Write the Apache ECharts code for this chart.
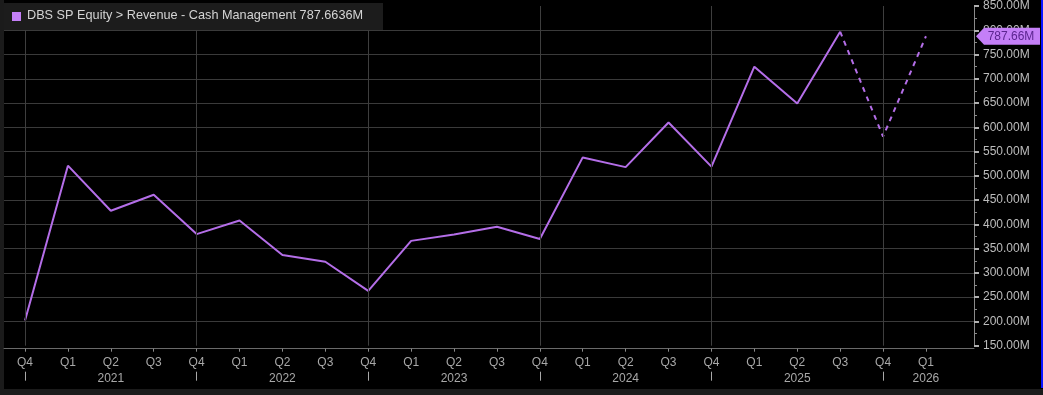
<!DOCTYPE html>
<html>
<head>
<meta charset="utf-8">
<script src="https://cdn.jsdelivr.net/npm/echarts@6/dist/echarts.min.js"></script>
<style>
html,body{margin:0;padding:0;background:#000;}
#chart{width:1043px;height:395px;}
</style>
</head>
<body>
<div id="chart"></div>
<script>
// Quarter labels (index 0 = Q4 2020 ... index 21 = Q1 2026)
const quarterLabels = ['Q4','Q1','Q2','Q3','Q4','Q1','Q2','Q3','Q4','Q1','Q2','Q3','Q4','Q1','Q2','Q3','Q4','Q1','Q2','Q3','Q4','Q1'];
// Year labels and the quarter index they are centred on
const yearLabels = ['2021','2022','2023','2024','2025','2026'];
const yearLabelIdx = [2, 6, 10, 14, 18, 21];
// Year separators (Q4 positions)
const yearSepIdx = [0, 4, 8, 12, 16, 20];
// Reported revenue (M), Q4 2020 .. Q3 2025
const actual = [202, 521, 428, 461, 380, 408, 337, 323, 263, 366, 379, 395, 370, 538, 518, 610, 519, 725, 649, 797];
// Estimates (M), Q4 2025 .. Q1 2026
const estimates = [581, 787.6636];
const lastValue = 787.6636;
const legendText = 'DBS SP Equity > Revenue - Cash Management 787.6636M';

const XMIN = -0.49, XMAX = 22.12;
const qIdx = quarterLabels.map((_, i) => i);
const actualData = actual.map((v, i) => [i, v]);
const estData = [[actual.length - 1, actual[actual.length - 1]]].concat(estimates.map((v, i) => [actual.length + i, v]));

const LINE = '#b46ee8';
const chart = echarts.init(document.getElementById('chart'));
chart.setOption({
  backgroundColor: '#000',
  animation: false,
  grid: { left: 4, right: 69, top: 6, bottom: 49.3 },
  xAxis: [{
    type: 'value', min: XMIN, max: XMAX, offset: 3,
    axisLine: { show: true, onZero: false, lineStyle: { color: '#6a6a6a', width: 1 } },
    axisTick: { show: true, customValues: qIdx, length: 3, lineStyle: { color: '#8a8a8a' } },
    axisLabel: { customValues: qIdx, formatter: v => quarterLabels[Math.round(v)], color: '#a8a8a8', fontSize: 12, fontFamily: 'Liberation Sans', margin: 8 },
    splitLine: { show: false }
  }, {
    type: 'value', min: XMIN, max: XMAX, position: 'bottom', offset: 26,
    axisLine: { show: false, onZero: false },
    axisTick: { show: true, customValues: yearSepIdx, length: 9, lineStyle: { color: '#a8a8a8' } },
    axisLabel: { customValues: yearLabelIdx, formatter: v => yearLabels[yearLabelIdx.indexOf(Math.round(v))], color: '#a8a8a8', fontSize: 12, fontFamily: 'Liberation Sans', margin: 1 },
    splitLine: { show: false }
  }],
  yAxis: {
    type: 'value', position: 'right', min: 150, max: 850, interval: 50,
    axisLine: { show: true, onZero: false, lineStyle: { color: '#8a8a8a' } },
    axisTick: { show: true, length: 5, lineStyle: { color: '#b0b0b0', width: 2 } },
    minorTick: { show: true, splitNumber: 2, length: 3, lineStyle: { color: '#8a8a8a' } },
    axisLabel: { formatter: v => v.toFixed(2) + 'M', color: '#bdbdbd', fontSize: 12, fontFamily: 'Liberation Sans', margin: 9 },
    splitLine: { show: true, showMinLine: false, showMaxLine: false, lineStyle: { color: '#3a3a3a', width: 1 } }
  },
  series: [{
    type: 'line', data: actualData, xAxisIndex: 0, symbol: 'none',
    lineStyle: { color: LINE, width: 2 },
    markLine: {
      silent: true, symbol: 'none', animation: false,
      label: { show: false },
      lineStyle: { color: '#3e3e3e', type: 'solid', width: 1 },
      data: yearSepIdx.map(i => ({ xAxis: i }))
    },
    z: 3
  }, {
    type: 'line', data: estData, xAxisIndex: 0, symbol: 'none', clip: false,
    lineStyle: { color: LINE, width: 2, type: [5, 5] },
    markPoint: {
      silent: true, animation: false,
      data: [{ coord: [XMAX, lastValue] }],
      symbol: 'path://M0,8 L8,0 L64,0 L64,16 L8,16 Z',
      symbolSize: [64, 17], symbolKeepAspect: false,
      symbolOffset: [34, 0],
      itemStyle: { color: '#c47ff7' },
      label: { show: true, position: 'inside', offset: [3, 0], formatter: () => lastValue.toFixed(2) + 'M', color: '#5b2590', fontSize: 12, fontFamily: 'Liberation Sans' }
    },
    z: 3
  }],
  graphic: [
    { type: 'rect', left: 0, top: 0, shape: { width: 4, height: 395 }, style: { fill: '#1b1b1b' }, silent: true },
    { type: 'rect', left: 0, top: 389, shape: { width: 1043, height: 6 }, style: { fill: '#1b1b1b' }, silent: true },
    { type: 'rect', left: 1041, top: 0, shape: { width: 2, height: 388 }, style: { fill: '#0a14ff' }, silent: true },
    { type: 'rect', left: 4, top: 3, shape: { width: 379, height: 27 }, style: { fill: '#1c1c1c' }, silent: true, z: 10 },
    { type: 'rect', left: 12, top: 12, shape: { width: 9, height: 9 }, style: { fill: '#c47ff7' }, silent: true, z: 11 },
    { type: 'text', left: 27, top: 9, style: { text: legendText, fill: '#d4d4d4', font: '12.7px "Liberation Sans"' }, silent: true, z: 11 }
  ]
});
</script>
</body>
</html>
